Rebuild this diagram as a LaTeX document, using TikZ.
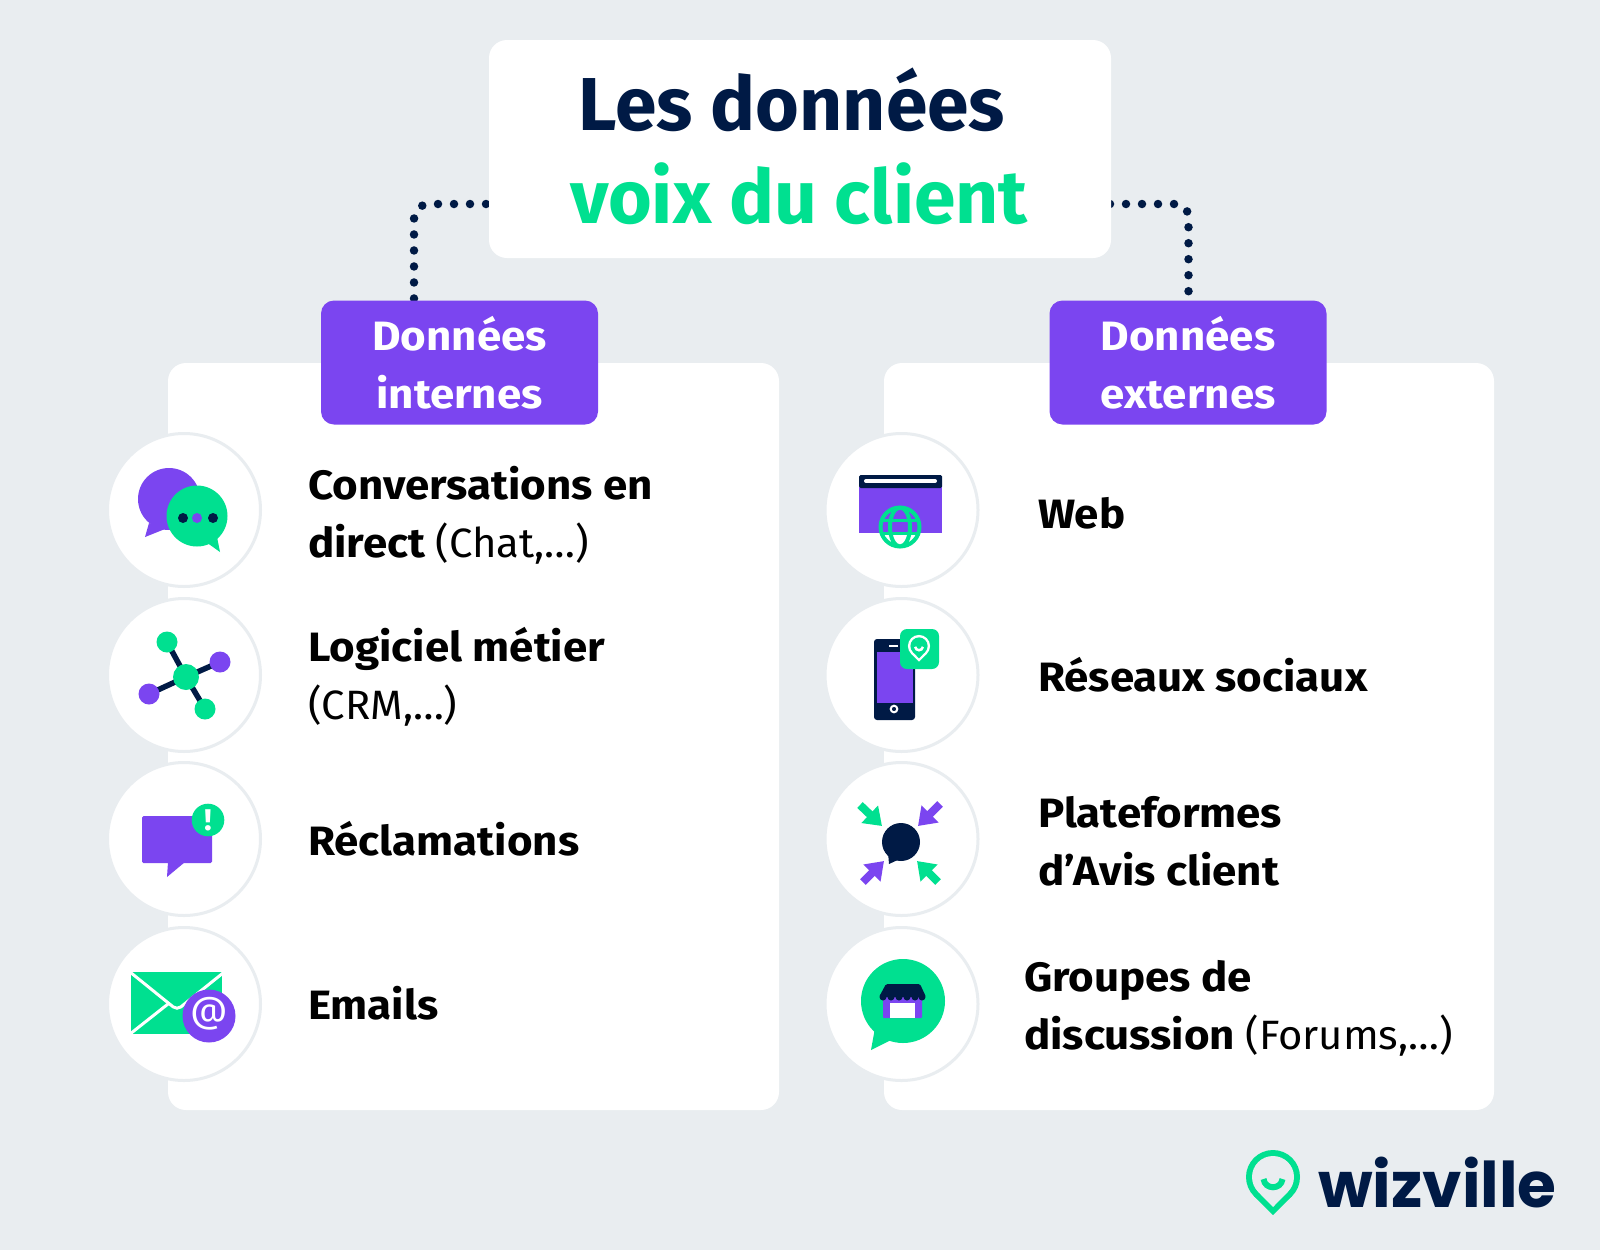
\documentclass[tikz,border=0pt]{standalone}
\usepackage{fontspec}
\setmainfont{Fira Sans}[FakeStretch=1.02, BoldFeatures={FakeStretch=1.07}]
\newfontfamily\titlefont{Fira Sans}
\newfontfamily\logofont{Poppins}
\usetikzlibrary{arrows.meta,backgrounds}
\definecolor{pagebg}{HTML}{E9EDF0}
\definecolor{navy}{HTML}{001A45}
\definecolor{violet}{HTML}{7B45F0}
\definecolor{mint}{HTML}{00E090}
\tikzset{
    card/.style={fill=white, rounded corners=18pt, inner sep=0pt, outer sep=0pt},
    badge/.style={fill=violet, rounded corners=13pt, minimum width=277pt, minimum height=124pt,
                  inner sep=0pt, outer sep=0pt, text=white, align=center,
                  font=\fontsize{41}{58}\selectfont\bfseries},
    disc/.style={circle, draw=pagebg, fill=white, line width=3pt, minimum size=153pt, inner sep=0pt},
    headline/.style={anchor=base, font=\titlefont\fontsize{75}{75}\selectfont\bfseries},
    entry/.style={text=black, align=left, inner sep=0pt, font=\fontsize{41}{58}\selectfont\bfseries},
    entryone/.style={entry, anchor=base west},
    entrytwo/.style={entry, anchor=west},
    dots/.style={navy, line width=8.5pt, line cap=round, dash pattern=on 0pt off 16pt},
    squeeze/.style={line width=8pt, -{Triangle[length=17pt, width=23pt]}},
    link/.style={navy, line width=5.5pt},
}
% x y scale ring fill
\newcommand{\pinmark}[5]{
    \begin{scope}[shift={(#1,#2)}, scale=#3]
        \fill[#4] (0,0) circle (27);
        \fill[#4] (-19,19.2) -- (0,38) -- (19,19.2) -- cycle;
        \fill[#5] (0,0) circle (21);
        \fill[#5] (-15,14.7) -- (0,30) -- (15,14.7) -- cycle;
        \draw[#4, line width=6pt*#3] (-9.5,2) .. controls (-8,13) and (8,13) .. (9.5,2);
    \end{scope}
}

\begin{document}
\begin{tikzpicture}[x=1pt, y=-1pt]
    \useasboundingbox (0,0) rectangle (1600,1250);

    \node[card, minimum width=622pt, minimum height=218pt] (title) at (800,149) {};
    \node[headline, text=navy] (titleone) at (792,130) {Les données};
    \node[headline, text=mint] (titletwo) at (799,223) {voix du client};

    \node[card, minimum width=611pt, minimum height=747pt] (panelint) at (473.5,736.5) {};
    \node[card, minimum width=610pt, minimum height=747pt] (panelext) at (1189,736.5) {};
    \node[badge] (badgeint) at (459.5,362.5) {Données\\internes};
    \node[badge] (badgeext) at (1188,362.5) {Données\\externes};

    \begin{scope}[on background layer]
        \fill[pagebg] (0,0) rectangle (1600,1250);
        \draw[dots, rounded corners=15pt] ([xshift=-3pt, yshift=-55pt]title.west) -| ([xshift=-45.5pt]badgeint.north);
        \draw[dots, rounded corners=13pt] ([xshift=-1pt, yshift=-55pt]title.east) -| ([xshift=0.5pt]badgeext.north);
    \end{scope}

    \foreach \name/\cy in {chat/510, soft/675, claim/839, mail/1004}
        \node[disc] (\name) at (184,\cy) {};
    \foreach \name/\cy in {web/510, social/675, review/839, forum/1004}
        \node[disc] (\name) at (901.5,\cy) {};

    \node[entrytwo] (chatlabel) at (308,515) {Conversations en\\direct \mdseries(Chat,…)};
    \node[entrytwo] (softlabel) at (308,677) {Logiciel métier\\\mdseries(CRM,…)};
    \node[entryone] (claimlabel) at (308,855) {Réclamations};
    \node[entryone] (maillabel) at (308,1019) {Emails};
    \node[entryone] (weblabel) at (1038,528) {Web};
    \node[entryone] (sociallabel) at (1038,691) {Réseaux sociaux};
    \node[entrytwo] (reviewlabel) at (1038,841) {Plateformes\\d’Avis client};
    \node[entrytwo] (forumlabel) at (1024,1008) {Groupes de\\discussion \mdseries(Forums,…)};

    % chat
    \fill[violet] (169,499) circle (31);
    \fill[violet] (149,523) -- (145,537) -- (165,529) -- cycle;
    \fill[mint] (197,516) circle (30.5);
    \fill[mint] (206,542) -- (220,552) -- (216,532) -- cycle;
    \fill[navy] (183,518) circle (5) (213,518) circle (5);
    \fill[violet] (197,518) circle (5);

    % software
    \draw[link] (149,694) -- (186,677) -- (220,662) (167,642) -- (186,677) -- (205,709);
    \fill[mint] (186,677) circle (13) (167,642) circle (10.5) (205,709) circle (10.5);
    \fill[violet] (220,662) circle (10.5) (149,694) circle (10.5);

    % complaint
    \fill[violet, rounded corners=1.5pt] (142,816) rectangle (212,863);
    \fill[violet] (168,862) -- (167,877) -- (185,862) -- cycle;
    \fill[mint] (208,820) circle (16.3);
    \node[text=white, inner sep=0pt, font=\fontsize{30}{30}\selectfont\bfseries] (bang) at (208,820) {!};

    % mail
    \fill[mint] (131,972) rectangle (222,1034);
    \draw[white, line width=3pt, rounded corners=5pt] (130,972) -- (177,1010) -- (223,973);
    \draw[white, line width=3pt] (130,1034) -- (168,1004);
    \fill[violet] (209,1016) circle (26.5);
    \node[text=white, inner sep=0pt, font=\fontsize{36}{36}\selectfont] (at) at (209,1014) {@};

    % web
    \fill[violet] (859,487) rectangle (942,533);
    \fill[navy, rounded corners=1.5pt] (859,475) rectangle (942,488);
    \draw[white, line width=4pt, line cap=round] (866,481) -- (935,481);
    \draw[mint, line width=4pt] (900,527) circle (19.5) (900,527) ellipse (10 and 19.5);
    \draw[mint, line width=3pt] (882,520) -- (918,520) (882,533) -- (918,533);

    % phone
    \fill[navy, rounded corners=3pt] (874,639) rectangle (915,720);
    \fill[violet] (877,652) rectangle (913,703);
    \draw[white, line width=2pt] (889,646) -- (898,646);
    \draw[white, line width=2pt] (894,709) circle (3.3);
    \fill[mint, rounded corners=7pt] (900,629) rectangle (939,669);
    \pinmark{919}{646}{0.41}{white}{mint}

    % reviews
    \draw[squeeze, mint] (860,805) -- (882,826);
    \draw[squeeze, violet] (940,804) -- (918,826);
    \draw[squeeze, violet] (863,882) -- (884,861);
    \draw[squeeze, mint] (938,882) -- (917,861);
    \fill[navy] (901,842) circle (19);
    \fill[navy] (888,852) -- (889,864) -- (902,858) -- cycle;

    % forum
    \fill[mint] (903,1001) circle (42);
    \fill[mint] (875,1028) -- (871,1050) -- (895,1038) -- cycle;
    \fill[violet, rounded corners=1pt] (883,995) rectangle (922,1018);
    \fill[white] (890,1003) rectangle (915,1018);
    \fill[navy, rounded corners=1.5pt] (886,984) -- (920,984) -- (926,997) -- (879,997) -- cycle;
    \foreach \bx in {883,891,899,907,915,922}
        \fill[navy] (\bx,997) circle (3.5);

    % logo
    \pinmark{1273}{1177}{1}{mint}{pagebg}
    \node[anchor=base west, inner sep=0pt, text=navy, font=\logofont\fontsize{63}{63}\selectfont\bfseries] (logo)
        at (1318,1207) {wizville};
\end{tikzpicture}
\end{document}
